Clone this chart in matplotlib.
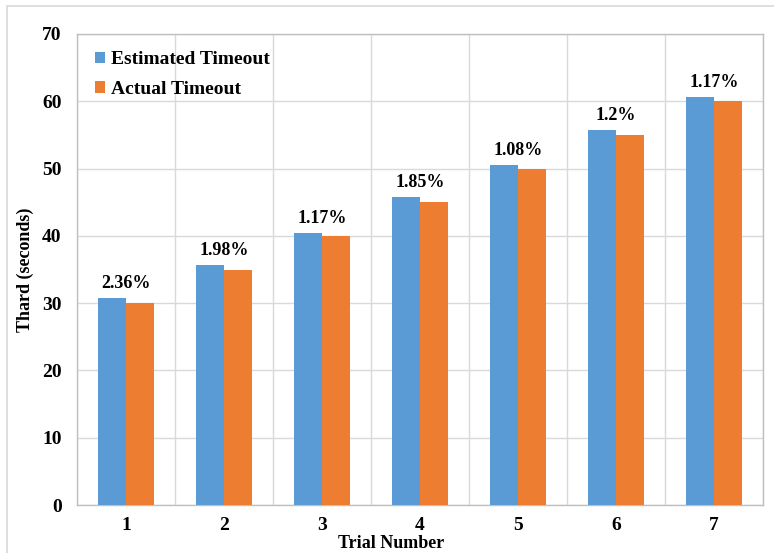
import matplotlib
matplotlib.use("Agg")
import matplotlib.pyplot as plt
from matplotlib.patches import Rectangle
import numpy as np

plt.rcParams['font.family'] = ['Liberation Serif', 'DejaVu Serif']
plt.rcParams['font.weight'] = 'bold'

trials = ["1", "2", "3", "4", "5", "6", "7"]
actual = [30, 35, 40, 45, 50, 55, 60]
error_pct = [2.36, 1.98, 1.17, 1.85, 1.08, 1.2, 1.17]
error_labels = ["2.36%", "1.98%", "1.17%", "1.85%", "1.08%", "1.2%", "1.17%"]
estimated = [a * (1 + e / 100) for a, e in zip(actual, error_pct)]

blue = "#5b9bd5"
orange = "#ed7d31"
grid_c = "#d9d9d9"

fig = plt.figure(figsize=(7.74, 5.53), dpi=100)
ax_w = (763 - 77) / 774
ax_h = (505 - 34) / 553
ax = fig.add_axes([77 / 774, 1 - 505 / 553, ax_w, ax_h])

# outer chart border
fig.patches.append(Rectangle((7 / 774, -0.5), 2, 0.5 + 1 - 6 / 553,
                             transform=fig.transFigure, fill=False,
                             edgecolor=grid_c, lw=1.2, clip_on=False))

x = np.arange(len(trials))
w = 0.29
ax.bar(x - w / 2, estimated, w, color=blue, label="Estimated Timeout", zorder=3)
ax.bar(x + w / 2, actual, w, color=orange, label="Actual Timeout", zorder=3)

for xi, est, lab in zip(x, estimated, error_labels):
    ax.text(xi, est + 0.9, lab, ha="center", va="bottom", fontsize=13,
            fontweight="bold", zorder=4)

ax.set_xlim(-0.5, len(trials) - 0.5)
ax.set_ylim(0, 70)
ax.set_yticks(range(0, 71, 10))
ax.set_xticks(x)
ax.set_xticklabels(trials)
ax.set_xticks(np.arange(-0.5, len(trials), 1), minor=True)

ax.grid(axis="y", which="major", color=grid_c, lw=1, zorder=0)
ax.grid(axis="x", which="minor", color=grid_c, lw=1, zorder=0)
ax.grid(axis="x", which="major", visible=False)

ax.tick_params(axis="both", which="both", length=0, labelsize=14)
ax.tick_params(axis="x", pad=9)
ax.tick_params(axis="y", pad=11)
for s in ax.spines.values():
    s.set_color("#bfbfbf")
    s.set_linewidth(1)

ax.set_xlabel("Trial Number", fontsize=13, fontweight="bold")
ax.xaxis.set_label_coords((391 - 77) / 686, (505 - 543) / 471)
ax.xaxis.label.set_va("center")
ax.set_ylabel("Thard (seconds)", fontsize=13, fontweight="bold")
ax.yaxis.set_label_coords((25 - 77) / 686, (505 - 270) / 471)
ax.yaxis.label.set_va("center")

leg = ax.legend(loc="upper left", bbox_to_anchor=(0.0, 1.0), frameon=False,
                fontsize=14, handlelength=0.55, handleheight=0.55,
                handletextpad=0.3, labelspacing=0.65)

fig.savefig("out.png", dpi=100)
